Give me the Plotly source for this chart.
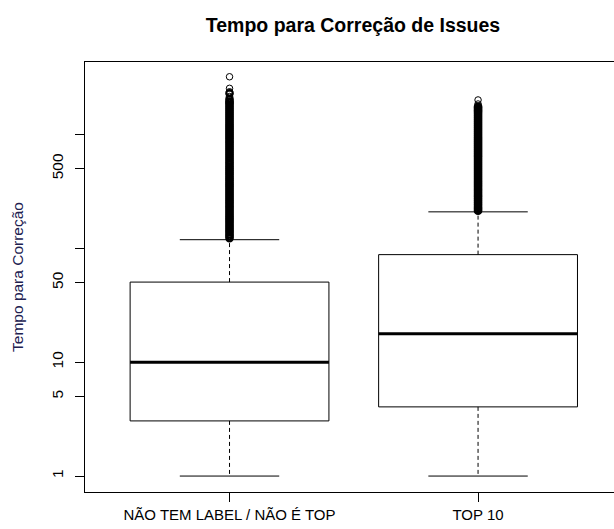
import plotly.graph_objects as go

# ---- data ----
categories = ["NÃO TEM LABEL / NÃO É TOP", "TOP 10"]
lower_whisker = [1, 1]
q1 = [3.05, 4.05]
median = [10, 17.8]
q3 = [50.5, 88]
upper_whisker = [119, 209]

outliers_nao_top = [123, 128, 133, 139, 144, 150, 156, 163, 170, 177, 184, 191, 199,
                    207, 216, 225, 234, 244, 254, 264, 275, 286, 298, 310, 323, 336,
                    350, 364, 379, 395, 411, 428, 446, 464, 483, 503, 523, 545, 567,
                    590, 615, 640, 666, 693, 722, 751, 782, 814, 848, 882, 919, 956,
                    995, 1036, 1079, 1123, 1169, 1217, 1267, 1319, 1373, 1429, 1488,
                    1549, 1612, 1678, 1747, 1819, 1893, 1940, 2040, 2150, 2300, 2370,
                    2540, 3210]
outliers_top10 = [214, 222, 231, 241, 251, 261, 272, 283, 294, 306, 319, 332, 346,
                  360, 375, 390, 406, 423, 440, 458, 477, 497, 517, 538, 560, 583,
                  607, 632, 658, 685, 713, 742, 773, 805, 838, 872, 908, 945, 984,
                  1024, 1066, 1110, 1155, 1203, 1252, 1303, 1357, 1412, 1470, 1531,
                  1593, 1640, 1700, 1754, 1850, 2008]
outliers = [outliers_nao_top, outliers_top10]

y_tick_vals = [1, 5, 10, 50, 100, 500, 1000]
y_tick_text = ["1", "5", "10", "50", "", "500", ""]

title_text = "Tempo para Correção de Issues"
y_title = "Tempo para Correção"

# ---- style ----
FONT = "Liberation Sans, Arial, sans-serif"
BOX_HALF = 0.4
STAPLE_HALF = 0.2


def ring_widths(vals):
    # heavily overplotted circles look like a solid band; isolated ones stay thin
    out = []
    for k, v in enumerate(vals):
        nxt = vals[k + 1] if k + 1 < len(vals) else None
        dense = nxt is not None and nxt / v < 1.06
        out.append(2.2 if dense else 1)
    return out


fig = go.Figure()
positions = [1, 2]

for i, pos in enumerate(positions):
    fig.add_trace(go.Scatter(
        x=[pos - BOX_HALF, pos + BOX_HALF, pos + BOX_HALF, pos - BOX_HALF, pos - BOX_HALF],
        y=[q1[i], q1[i], q3[i], q3[i], q1[i]],
        mode="lines", line=dict(color="black", width=1),
        fill="toself", fillcolor="white", hoverinfo="skip", showlegend=False))
    fig.add_trace(go.Scatter(
        x=[pos, pos, None, pos, pos],
        y=[q3[i], upper_whisker[i], None, q1[i], lower_whisker[i]],
        mode="lines", line=dict(color="black", width=1, dash="4px,3px"),
        hoverinfo="skip", showlegend=False))
    fig.add_trace(go.Scatter(
        x=[pos - STAPLE_HALF, pos + STAPLE_HALF, None, pos - STAPLE_HALF, pos + STAPLE_HALF],
        y=[upper_whisker[i], upper_whisker[i], None, lower_whisker[i], lower_whisker[i]],
        mode="lines", line=dict(color="black", width=1),
        hoverinfo="skip", showlegend=False))
    fig.add_trace(go.Scatter(
        x=[pos - BOX_HALF, pos + BOX_HALF], y=[median[i], median[i]],
        mode="lines", line=dict(color="black", width=3),
        hoverinfo="skip", showlegend=False))
    fig.add_trace(go.Scatter(
        x=[pos] * len(outliers[i]), y=outliers[i],
        mode="markers",
        marker=dict(symbol="circle-open", size=6.5, color="black",
                    line=dict(width=ring_widths(outliers[i]), color="black")),
        hoverinfo="skip", showlegend=False))

fig.update_layout(
    width=614, height=529, autosize=False,
    margin=dict(l=85, r=0, t=62, b=37),
    paper_bgcolor="white", plot_bgcolor="white",
    font=dict(family=FONT, size=15, color="black"),
    title=dict(text="<b>" + title_text + "</b>", x=353 / 614, xanchor="center",
               y=1 - 25 / 529, yanchor="middle", yref="container",
               font=dict(family=FONT, size=19.5, color="black")),
    xaxis=dict(range=[0.4185, 2.547], tickvals=positions, ticktext=categories,
               ticks="outside", ticklen=9, tickcolor="black", tickwidth=1,
               showline=True, linecolor="black", linewidth=1, mirror=True,
               showgrid=False, zeroline=False,
               tickfont=dict(family=FONT, size=15, color="black")),
    yaxis=dict(type="log", range=[-0.140, 3.636], tickvals=y_tick_vals,
               ticktext=y_tick_text, tickangle=-90,
               ticks="outside", ticklen=9, tickcolor="black", tickwidth=1,
               showline=True, linecolor="black", linewidth=1, mirror=False,
               showgrid=False, zeroline=False, ticklabelstandoff=6,
               tickfont=dict(family=FONT, size=15.5, color="black")),
)
fig.update_yaxes(title=dict(text=y_title, standoff=21,
                            font=dict(family=FONT, size=15.5, color="#202050")))

fig.write_html("out.html")
